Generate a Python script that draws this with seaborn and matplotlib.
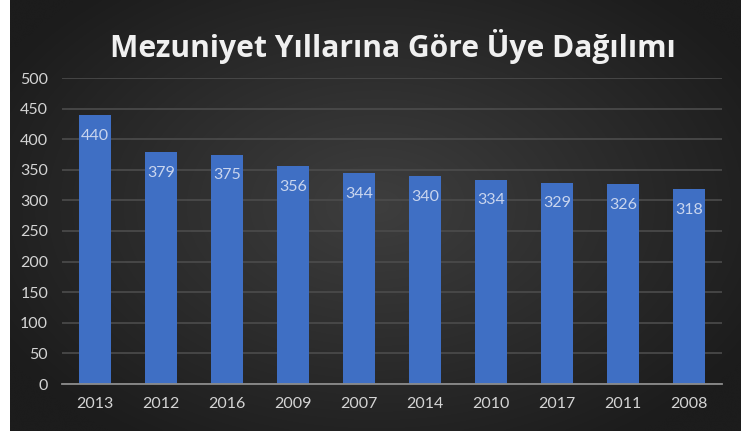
import numpy as np
import pandas as pd
import matplotlib
matplotlib.use("Agg")
import matplotlib.pyplot as plt
import seaborn as sns

years = ["2013", "2012", "2016", "2009", "2007", "2014", "2010", "2017", "2011", "2008"]
counts = [440, 379, 375, 356, 344, 340, 334, 329, 326, 318]
title = "Mezuniyet Yıllarına Göre Üye Dağılımı"
yticks = [0, 50, 100, 150, 200, 250, 300, 350, 400, 450, 500]

df = pd.DataFrame({"year": years, "count": counts})

sns.set_theme(style="dark")
plt.rcParams['font.family'] = ['Lato', 'DejaVu Sans']

W, H = 744, 434
fig = plt.figure(figsize=(W / 100, H / 100), dpi=100)
fig.patch.set_facecolor("white")

# dark background panel with radial gradient
bg_ax = fig.add_axes([10 / W, 3 / H, 731 / W, 431 / H])
yy, xx = np.mgrid[0:200, 0:340]
cx, cy = 170, 95
r = np.sqrt(((xx - cx) / 200) ** 2 + ((yy - cy) / 130) ** 2)
r = np.clip(r, 0, 1)
c0 = np.array([0x3e, 0x3e, 0x3e]) / 255
c1 = np.array([0x1c, 0x1c, 0x1c]) / 255
img = c0[None, None, :] * (1 - r[..., None]) + c1[None, None, :] * r[..., None]
bg_ax.imshow(img, aspect="auto", extent=[0, 1, 0, 1], interpolation="bicubic")
bg_ax.set_axis_off()

ax = fig.add_axes([62 / W, (H - 384) / H, 660 / W, 306 / H])
ax.patch.set_alpha(0)
sns.barplot(data=df, x="year", y="count", ax=ax, color="#3f6fc4",
            width=0.49, saturation=1, linewidth=0, zorder=3)

ax.set_ylim(0, 500)
ax.set_yticks(yticks)
ax.set_yticklabels([str(t) for t in yticks])
ax.yaxis.grid(True, color="#4c4c4c", linewidth=1.2, zorder=0)
ax.xaxis.grid(False)
for s in ["top", "right", "left"]:
    ax.spines[s].set_visible(False)
ax.spines["bottom"].set_color("#8c8c8c")
ax.spines["bottom"].set_linewidth(1.3)
ax.spines["bottom"].set_zorder(4)
ax.tick_params(axis="both", colors="#d4d4d4", labelsize=11.5, length=0)
ax.tick_params(axis="y", pad=10)
ax.tick_params(axis="x", pad=9)
ax.set_xlabel("")
ax.set_ylabel("")

for i, v in enumerate(counts):
    ax.annotate(str(v), (i, v), xytext=(0, -15), textcoords="offset points",
                ha="center", va="center", color="#c9d5ee", fontsize=11.5, zorder=5)

fig.text(393 / W, 1 - 46 / H, title, ha="center", va="center",
         color="#f0f0f0", fontsize=21.6, fontweight="bold",
         family=["Open Sans", "DejaVu Sans"])

fig.savefig("out.png", dpi=100)
